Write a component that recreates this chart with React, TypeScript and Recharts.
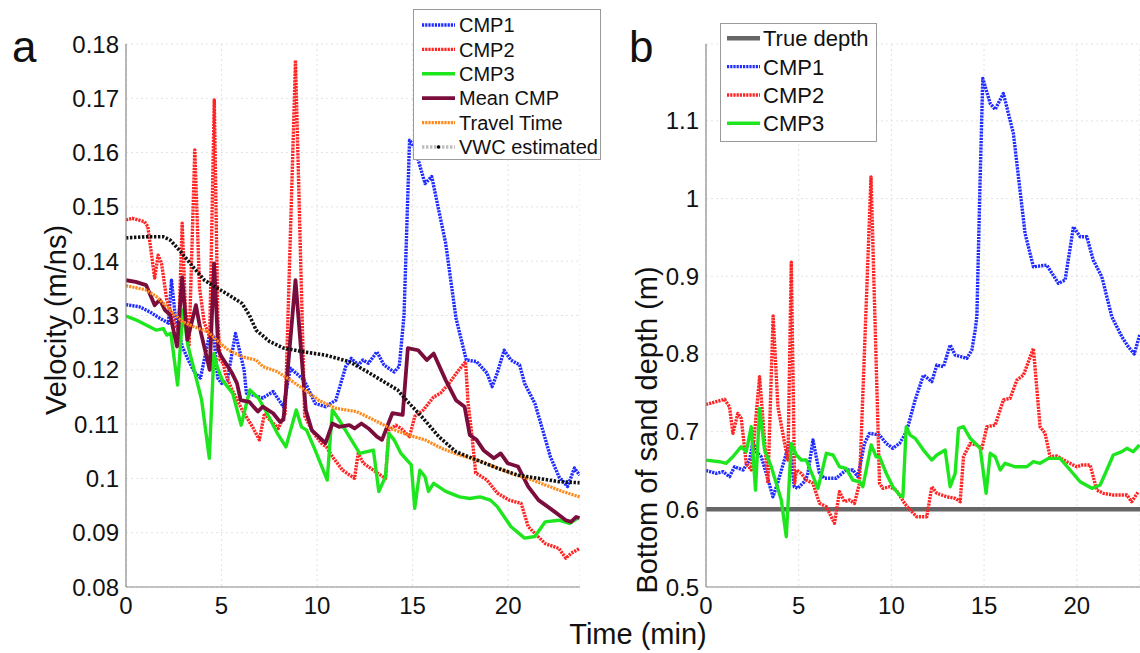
import { LineChart, Line, XAxis, YAxis, CartesianGrid } from "recharts";

type Pt = [number, number];

const FONT = '"Liberation Sans", Arial, Helvetica, sans-serif';

const timeTicks = [0, 5, 10, 15, 20];
const velTicks = [0.08, 0.09, 0.1, 0.11, 0.12, 0.13, 0.14, 0.15, 0.16, 0.17, 0.18];
const depthTicks = [0.5, 0.6, 0.7, 0.8, 0.9, 1.0, 1.1];

// panel a: velocity (m/ns) vs time (min)
const cmp1Vel: Pt[] = [
  [0, 0.132], [0.7, 0.1316], [1.23, 0.1307], [1.77, 0.1295], [2.22, 0.1286], [2.38, 0.1365],
  [2.58, 0.1298], [2.94, 0.1243], [3.3, 0.1215], [3.6, 0.1195], [3.9, 0.1185], [4.4, 0.127],
  [4.6, 0.126], [4.8, 0.1185], [5.0, 0.1175], [5.3, 0.118], [5.73, 0.1267], [6.18, 0.12],
  [6.3, 0.1157], [7.16, 0.1148], [7.7, 0.116], [8.24, 0.1132], [8.6, 0.1203], [9.32, 0.1181],
  [9.9, 0.1138], [10.44, 0.1132], [10.98, 0.1144], [11.5, 0.1206], [11.79, 0.1221],
  [12.15, 0.1209], [12.4, 0.1218], [12.69, 0.1212], [13.13, 0.1233], [13.5, 0.1209],
  [14.03, 0.1196], [14.3, 0.1206], [14.55, 0.13], [14.84, 0.1623], [15.1, 0.161],
  [15.65, 0.1543], [16.0, 0.1556], [16.73, 0.1433], [17.27, 0.1295], [17.81, 0.1218],
  [18.35, 0.1215], [18.89, 0.1194], [19.16, 0.1169], [19.43, 0.1194], [19.79, 0.1236],
  [20.14, 0.1218], [20.6, 0.1209], [20.86, 0.1175], [21.4, 0.1138], [21.76, 0.1095],
  [22.21, 0.104], [22.66, 0.1003], [23.11, 0.0985], [23.47, 0.1019], [23.74, 0.1006],
];

const cmp2Vel: Pt[] = [
  [0, 0.1476], [0.33, 0.1479], [0.96, 0.1473], [1.14, 0.1464], [1.5, 0.1369], [1.68, 0.1411],
  [1.86, 0.1396], [2.13, 0.1329], [2.31, 0.131], [2.6, 0.128], [2.76, 0.1273], [2.94, 0.147],
  [3.1, 0.132], [3.3, 0.1243], [3.6, 0.1605], [3.85, 0.135], [4.1, 0.1286], [4.38, 0.1261],
  [4.62, 0.1697], [4.8, 0.13], [4.92, 0.1218], [5.1, 0.1212], [5.19, 0.1194], [5.55, 0.1163],
  [6.08, 0.1126], [6.62, 0.1095], [6.98, 0.1071], [7.25, 0.112], [7.52, 0.1108],
  [7.97, 0.1092], [8.33, 0.112], [8.87, 0.177], [9.35, 0.1115], [9.77, 0.1086],
  [10.22, 0.1065], [10.49, 0.1058], [10.8, 0.104], [11.34, 0.1015], [11.96, 0.1],
  [12.15, 0.1046], [12.42, 0.1028], [12.95, 0.1015], [13.58, 0.1], [13.76, 0.1089],
  [14.12, 0.1098], [14.39, 0.1092], [14.84, 0.1077], [15.11, 0.1114], [15.56, 0.1126],
  [16.1, 0.115], [16.46, 0.1157], [16.91, 0.1175], [17.36, 0.1197], [17.77, 0.1215],
  [17.9, 0.114], [18.1, 0.108], [18.3, 0.101], [18.89, 0.0997], [19.43, 0.0973],
  [20.05, 0.096], [20.68, 0.0954], [21.05, 0.0911], [21.94, 0.088], [22.66, 0.0871],
  [23.02, 0.0853], [23.29, 0.0862], [23.74, 0.0871],
];

const cmp3Vel: Pt[] = [
  [0, 0.1299], [0.51, 0.1292], [1.59, 0.1273], [1.95, 0.1276], [2.13, 0.1264], [2.35, 0.1267],
  [2.7, 0.1172], [2.98, 0.131], [3.25, 0.1243], [3.52, 0.1206], [3.96, 0.1144], [4.36, 0.1037],
  [4.6, 0.123], [4.77, 0.1206], [5.04, 0.1181], [5.58, 0.1157], [6.03, 0.1098], [6.48, 0.1163],
  [6.93, 0.1148], [7.38, 0.112], [7.92, 0.1083], [8.37, 0.1058], [8.91, 0.1126], [9.18, 0.1095],
  [9.45, 0.1089], [9.9, 0.1052], [10.53, 0.0997], [10.8, 0.1126], [11.15, 0.1108],
  [11.69, 0.1077], [12.23, 0.1046], [12.95, 0.1052], [13.23, 0.0976], [13.58, 0.1003],
  [13.76, 0.1083], [14.03, 0.1071], [14.39, 0.1046], [14.93, 0.1025], [15.11, 0.0945],
  [15.38, 0.1015], [15.65, 0.1003], [15.83, 0.0976], [16.1, 0.0991], [16.73, 0.0976],
  [17.45, 0.0966], [17.99, 0.0963], [18.53, 0.0966], [19.07, 0.096], [19.43, 0.0948],
  [20.15, 0.0911], [20.86, 0.089], [21.4, 0.0893], [21.94, 0.092], [22.66, 0.0923],
  [23.2, 0.0917], [23.65, 0.0927],
];

const meanVel: Pt[] = [
  [0, 0.1365], [0.51, 0.1362], [1.05, 0.1356], [1.5, 0.1319], [1.77, 0.1329], [2.04, 0.131],
  [2.31, 0.1301], [2.67, 0.1243], [2.94, 0.137], [3.21, 0.1255], [3.66, 0.1319], [3.93, 0.1267],
  [4.38, 0.12], [4.61, 0.1396], [4.83, 0.1236], [5.0, 0.1224], [5.55, 0.1194], [5.81, 0.1175],
  [6.0, 0.1144], [6.45, 0.1141], [6.9, 0.1123], [7.16, 0.1132], [7.7, 0.112], [8.06, 0.1104],
  [8.24, 0.1108], [8.87, 0.1365], [9.41, 0.1126], [9.72, 0.1089], [10.44, 0.1065],
  [10.8, 0.1101], [11.15, 0.1095], [11.69, 0.1098], [11.96, 0.1092], [12.32, 0.1101],
  [12.69, 0.1092], [13.13, 0.1077], [13.4, 0.1071], [13.94, 0.112], [14.48, 0.1117],
  [14.75, 0.124], [15.29, 0.1236], [15.74, 0.1218], [16.1, 0.123], [16.73, 0.1181],
  [17.27, 0.1144], [17.72, 0.1132], [17.99, 0.108], [18.35, 0.1071], [18.71, 0.1052],
  [19.25, 0.1037], [19.61, 0.1046], [19.97, 0.1028], [20.51, 0.1022], [21.05, 0.0985],
  [21.59, 0.096], [22.3, 0.0942], [23.02, 0.0923], [23.29, 0.092], [23.56, 0.0929],
  [23.74, 0.0927],
];

const travelVel: Pt[] = [
  [0, 0.1355], [1.05, 0.1347], [1.59, 0.1335], [2.31, 0.131], [2.94, 0.1289], [3.57, 0.1279],
  [4.29, 0.127], [4.83, 0.1252], [5.37, 0.1236], [6.08, 0.1224], [6.81, 0.1218], [7.16, 0.1206],
  [7.89, 0.1197], [8.6, 0.1181], [9.36, 0.1163], [10.08, 0.1144], [10.98, 0.1129],
  [12.06, 0.1123], [12.95, 0.1108], [13.85, 0.1092], [14.75, 0.108], [15.65, 0.1071],
  [16.55, 0.1055], [17.45, 0.1043], [18.35, 0.1034], [19.25, 0.1022], [20.15, 0.1009],
  [21.05, 0.1], [21.94, 0.0988], [22.84, 0.0976], [23.74, 0.0966],
];

const vwcVel: Pt[] = [
  [0, 0.1443], [1.05, 0.1445], [1.95, 0.1445], [2.31, 0.1439], [2.85, 0.1418], [3.57, 0.1387],
  [4.11, 0.1365], [4.65, 0.1353], [5.37, 0.1338], [6.08, 0.1322], [6.45, 0.1301],
  [6.81, 0.1273], [7.52, 0.1252], [8.24, 0.124], [9.32, 0.1233], [10.44, 0.1227],
  [11.69, 0.1215], [12.6, 0.1197], [13.5, 0.1178], [14.21, 0.1163], [14.75, 0.1141],
  [15.47, 0.1114], [16.37, 0.1077], [17.27, 0.1049], [18.35, 0.1034], [19.43, 0.1019],
  [20.51, 0.1006], [21.59, 0.1], [22.66, 0.0994], [23.74, 0.0992],
];

// panel b: bottom of sand depth (m) vs time (min)
const trueDepth: Pt[] = [[0, 0.6], [23.41, 0.6]];

const cmp1Depth: Pt[] = [
  [0, 0.65], [0.55, 0.6463], [0.92, 0.6484], [1.27, 0.642], [1.54, 0.6548], [2.0, 0.6506],
  [2.35, 0.6634], [2.53, 0.687], [2.71, 0.6741], [2.98, 0.6677], [3.25, 0.6463], [3.61, 0.6162],
  [3.86, 0.6335], [4.33, 0.672], [4.51, 0.6849], [4.76, 0.6291], [4.94, 0.627], [5.3, 0.6355],
  [5.48, 0.6441], [5.77, 0.6892], [6.12, 0.6463], [6.39, 0.6399], [7.02, 0.6399],
  [7.56, 0.6506], [7.92, 0.6506], [8.19, 0.642], [8.55, 0.6849], [8.82, 0.6978],
  [9.36, 0.6956], [9.72, 0.6849], [10.08, 0.6785], [10.44, 0.6849], [10.71, 0.6956],
  [10.84, 0.702], [11.28, 0.7407], [11.73, 0.7728], [12.18, 0.7642], [12.45, 0.7857],
  [12.81, 0.7835], [13.17, 0.8115], [13.44, 0.7986], [14.07, 0.7943], [14.34, 0.805],
  [14.52, 0.8308], [14.61, 0.848], [14.79, 1.028], [14.93, 1.1547], [15.33, 1.1225],
  [15.6, 1.1148], [16.04, 1.1354], [16.58, 1.0839], [17.21, 0.9552], [17.66, 0.9122],
  [18.38, 0.9144], [19.01, 0.8909], [19.37, 0.8951], [19.82, 0.9637], [20.18, 0.9509],
  [20.54, 0.9509], [20.89, 0.9208], [21.35, 0.8994], [21.89, 0.8479], [22.43, 0.8222],
  [22.78, 0.8093], [23.1, 0.8], [23.4, 0.825],
];

const cmp2Depth: Pt[] = [
  [0, 0.735], [0.55, 0.7385], [1.0, 0.7416], [1.27, 0.732], [1.45, 0.6978], [1.72, 0.7235],
  [1.9, 0.7171], [2.17, 0.6592], [2.44, 0.6506], [2.89, 0.7707], [3.34, 0.6335], [3.62, 0.849],
  [3.88, 0.732], [4.24, 0.685], [4.42, 0.6634], [4.6, 0.918], [4.78, 0.6335], [4.87, 0.6506],
  [5.14, 0.6463], [5.41, 0.6377], [5.77, 0.6335], [6.12, 0.6077], [6.49, 0.6034],
  [6.93, 0.582], [7.2, 0.6227], [7.47, 0.6098], [7.74, 0.612], [8.01, 0.6077], [8.28, 0.6335],
  [8.9, 1.028], [9.36, 0.6335], [9.54, 0.627], [9.9, 0.6291], [10.26, 0.6248],
  [10.71, 0.6077], [11.01, 0.5991], [11.37, 0.5905], [11.91, 0.5905], [12.18, 0.6291],
  [12.45, 0.6206], [12.99, 0.6162], [13.44, 0.6141], [13.71, 0.6098], [13.89, 0.6677],
  [14.25, 0.6849], [14.61, 0.6828], [14.88, 0.6785], [15.15, 0.7063], [15.6, 0.7085],
  [16.04, 0.7407], [16.4, 0.7429], [16.77, 0.7664], [17.12, 0.7728], [17.66, 0.8072],
  [18.02, 0.7063], [18.29, 0.6978], [18.56, 0.6677], [18.92, 0.6686], [19.46, 0.6613],
  [20.0, 0.6548], [20.27, 0.657], [20.72, 0.657], [21.08, 0.6248], [21.43, 0.6206],
  [21.97, 0.6184], [22.7, 0.6184], [22.96, 0.6098], [23.32, 0.6227],
];

const cmp3Depth: Pt[] = [
  [0, 0.6634], [0.73, 0.6613], [1.09, 0.6592], [1.45, 0.6677], [1.9, 0.6806], [2.17, 0.6741],
  [2.44, 0.7063], [2.67, 0.6248], [2.89, 0.73], [3.16, 0.6763], [3.52, 0.6548], [4.06, 0.612],
  [4.33, 0.5647], [4.6, 0.6849], [4.87, 0.6699], [5.14, 0.6634], [5.41, 0.6634], [6.04, 0.627],
  [6.49, 0.6721], [6.85, 0.6699], [7.2, 0.6548], [7.56, 0.6527], [7.92, 0.6377],
  [8.28, 0.6355], [8.46, 0.6291], [8.91, 0.6828], [9.18, 0.6677], [9.36, 0.6677],
  [9.72, 0.6463], [10.08, 0.6291], [10.44, 0.6184], [10.62, 0.6162], [10.8, 0.7063],
  [11.01, 0.6956], [11.28, 0.6914], [11.73, 0.6763], [12.18, 0.6634], [12.45, 0.6699],
  [12.9, 0.6763], [13.17, 0.6291], [13.44, 0.6463], [13.62, 0.7042], [13.89, 0.7063],
  [14.25, 0.6914], [14.79, 0.6785], [15.11, 0.6206], [15.33, 0.6721], [15.6, 0.6677],
  [15.87, 0.6506], [16.13, 0.6592], [16.67, 0.6548], [17.3, 0.6548], [17.66, 0.6613],
  [18.02, 0.6592], [18.47, 0.6656], [19.1, 0.6656], [19.64, 0.6506], [20.18, 0.6355],
  [20.81, 0.627], [21.26, 0.6313], [21.62, 0.6506], [21.97, 0.6699], [22.43, 0.6742],
  [22.7, 0.6785], [23.05, 0.6742], [23.38, 0.6828],
];

const rows = (a: Pt[]) => a.map(([t, v]) => ({ t, v }));

type Series = { name: string; data: Pt[]; color: string; width: number; dash?: string; legendColor?: string; marker?: boolean };

const DOT = "2.2 1";

const seriesA: Series[] = [
  { name: "CMP1", data: cmp1Vel, color: "#1f2bff", width: 3.4, dash: DOT },
  { name: "CMP2", data: cmp2Vel, color: "#ff2424", width: 3.4, dash: DOT },
  { name: "CMP3", data: cmp3Vel, color: "#1ee61e", width: 3.4 },
  { name: "Mean CMP", data: meanVel, color: "#7a0d3c", width: 3.8 },
  { name: "Travel Time", data: travelVel, color: "#ff8a1c", width: 3.2, dash: DOT },
  { name: "VWC estimated", data: vwcVel, color: "#111111", width: 3.6, dash: "2.4 1.6", legendColor: "#bdbdbd", marker: true },
];

const seriesB: Series[] = [
  { name: "True depth", data: trueDepth, color: "#666666", width: 4.5 },
  { name: "CMP1", data: cmp1Depth, color: "#1f2bff", width: 3.4, dash: DOT },
  { name: "CMP2", data: cmp2Depth, color: "#ff2424", width: 3.4, dash: DOT },
  { name: "CMP3", data: cmp3Depth, color: "#1ee61e", width: 3.4 },
];

const tickStyle = { fontSize: 24, fill: "#111", fontFamily: FONT };
const axisLine = { stroke: "#8a8a8a", strokeWidth: 1.2 };

function LegendBox({ items, left, top, width, height, rowH, padTop, sample, textX, fontSize }: {
  items: Series[]; left: number; top: number; width: number; height: number; rowH: number;
  padTop: number; sample: [number, number]; textX: number; fontSize: number;
}) {
  return (
    <svg style={{ position: "absolute", left, top }} width={width} height={height}>
      <rect x={0.5} y={0.5} width={width - 1} height={height - 1} fill="#fff" stroke="#9a9a9a" strokeWidth={1} />
      {items.map((s, i) => {
        const cy = padTop + rowH * i + rowH / 2;
        return (
          <g key={s.name}>
            <line x1={sample[0]} x2={sample[1]} y1={cy} y2={cy} stroke={s.legendColor ?? s.color}
              strokeWidth={s.width} strokeDasharray={s.dash} />
            {s.marker && <circle cx={(sample[0] + sample[1]) / 2} cy={cy} r={1.8} fill="#000" />}
            <text x={textX} y={cy} dy="0.36em" fontSize={fontSize} fontFamily={FONT} fill="#111">{s.name}</text>
          </g>
        );
      })}
    </svg>
  );
}

function Panel({ series, yDomain, yTicks, xMax, width, fmt }: {
  series: Series[]; yDomain: [number, number]; yTicks: number[]; xMax: number; width: number; fmt: (v: number) => string;
}) {
  return (
    <LineChart width={width} height={653} margin={{ top: 44, right: 0, bottom: 0, left: 0 }}>
      <CartesianGrid stroke="#e2e2e2" strokeDasharray="2 3" />
      <XAxis dataKey="t" type="number" domain={[0, xMax]} ticks={timeTicks} allowDataOverflow
        height={66} tickSize={0} tickMargin={10} tickLine={false} axisLine={axisLine} tick={tickStyle} />
      <YAxis type="number" domain={yDomain} ticks={yTicks} allowDataOverflow width={126}
        tickSize={0} tickMargin={7} tickLine={false} axisLine={axisLine} tick={tickStyle} tickFormatter={fmt} />
      {series.map((s) => (
        <Line key={s.name} data={rows(s.data)} dataKey="v" type="linear" stroke={s.color}
          strokeWidth={s.width} strokeDasharray={s.dash} dot={false} activeDot={false}
          isAnimationActive={false} strokeLinejoin="round" />
      ))}
    </LineChart>
  );
}

export default function App() {
  return (
    <div style={{ position: "absolute", left: 0, top: 0, width: 1140, height: 653, background: "#fff", overflow: "hidden", fontFamily: FONT }}>
      <div style={{ position: "absolute", left: 0, top: 0 }}>
        <Panel series={seriesA} yDomain={[0.08, 0.18]} yTicks={velTicks} xMax={23.76} width={580}
          fmt={(v) => String(Math.round(v * 100) / 100)} />
      </div>
      <div style={{ position: "absolute", left: 580, top: 0 }}>
        <Panel series={seriesB} yDomain={[0.5, 1.199]} yTicks={depthTicks} xMax={23.41} width={560}
          fmt={(v) => String(Math.round(v * 10) / 10)} />
      </div>
      <svg style={{ position: "absolute", left: 0, top: 0, pointerEvents: "none" }} width={1140} height={653}>
        <text x={12} y={62} fontSize={44} fontFamily={FONT} fill="#111">a</text>
        <text x={629} y={62} fontSize={44} fontFamily={FONT} fill="#111">b</text>
        <text x={638} y={644} fontSize={29} fontFamily={FONT} fill="#111" textAnchor="middle">Time (min)</text>
        <text transform="translate(66,320) rotate(-90)" fontSize={29} fontFamily={FONT} fill="#111" textAnchor="middle">Velocity (m/ns)</text>
        <text transform="translate(657,430) rotate(-90)" fontSize={29} fontFamily={FONT} fill="#111" textAnchor="middle">Bottom of sand depth (m)</text>
      </svg>
      <LegendBox items={seriesA} left={413} top={9} width={188} height={151} rowH={24.4} padTop={3.8}
        sample={[9, 42]} textX={46} fontSize={20} />
      <LegendBox items={seriesB} left={720} top={23} width={157} height={119} rowH={28.3} padTop={1.2}
        sample={[7, 40]} textX={43} fontSize={22} />
    </div>
  );
}
